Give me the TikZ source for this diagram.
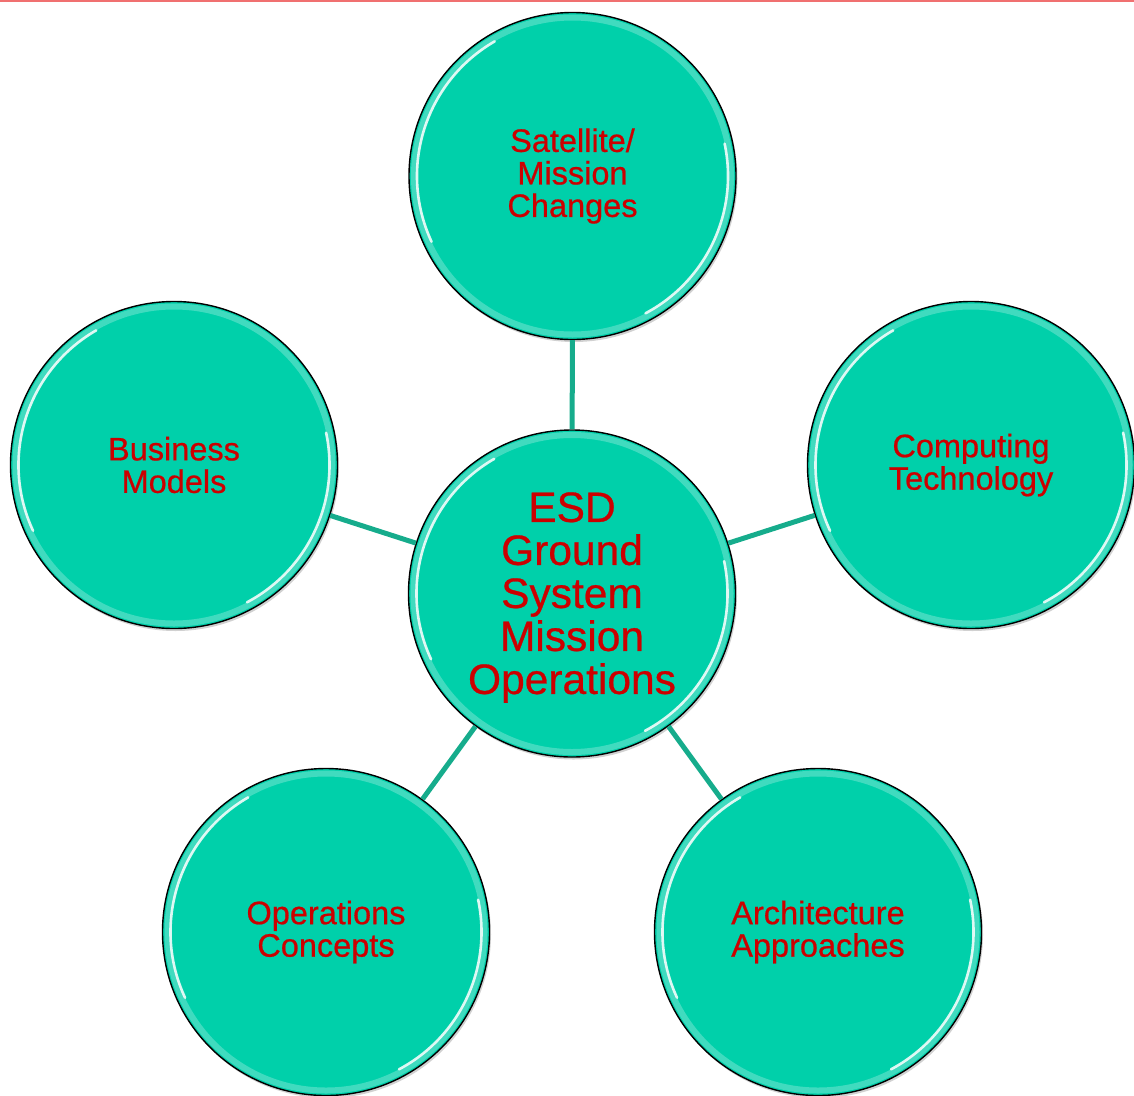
\documentclass[tikz,border=0pt]{standalone}
\usepackage{fontspec}
\setmainfont{Liberation Sans}
\newfontfamily\labelfont{Liberation Sans}[FakeBold=0.6]
\usetikzlibrary{shadows}
\definecolor{discfill}{RGB}{0,208,170}
\definecolor{linkcol}{RGB}{22,172,140}
\definecolor{labelred}{RGB}{204,0,0}
\definecolor{topline}{RGB}{240,112,112}
\begin{document}
\begin{tikzpicture}[x=1pt,y=1pt,
  disc/.style={circle, draw=black, line width=1.4pt, fill=discfill,
    minimum size=327pt, inner sep=0pt, align=center, text=labelred,
    drop shadow={shadow xshift=1.5pt, shadow yshift=-2.5pt, opacity=0.18, fill=black}},
  small/.style={font=\labelfont\fontsize{32.5}{32.5}\selectfont},
  big/.style={font=\labelfont\fontsize{42.5}{43}\selectfont},
  link/.style={draw=linkcol, line width=5pt},
  glow/.style={draw=white, line width=6pt, opacity=0.25},
  shine/.style={draw=white, line width=2.6pt, opacity=0.85, line cap=round}]
\useasboundingbox (0,0) rectangle (1134,-1095);
% thin rule along the top edge
\fill[topline] (0,0) rectangle (1134,-1.6);

% hub and satellites
\node[disc]   (ctr) at (572,-593.5) {};
\node[big, text=labelred, align=center] (ctrlabel) at (572,-597.5) {ESD\\Ground\\System\\Mission\\Operations};
\node[disc, small] (top) at (572.5,-176) {Satellite/\\Mission\\Changes};
\node[disc, small] (lft) at (174,-465) {Business\\Models};
\node[disc, small] (rgt) at (971,-465) {Computing\\Technology};
\node[disc, small] (bl)  at (326,-932) {Operations\\Concepts};
\node[disc, small] (br)  at (818,-932) {Architecture\\Approaches};

% glossy rims
\foreach \n in {ctr,top,lft,rgt,bl,br}{
  \draw[glow] (\n.center) circle (158.5);
  \draw[shine] ([shift={(120:155.5)}]\n.center) arc (120:205:155.5);
  \draw[shine] ([shift={(-62:155.5)}]\n.center) arc (-62:12:155.5);
}

% spokes
\draw[link] (ctr) -- (top);
\draw[link] (ctr) -- (lft);
\draw[link] (ctr) -- (rgt);
\draw[link] (ctr) -- (bl);
\draw[link] (ctr) -- (br);
\end{tikzpicture}
\end{document}
